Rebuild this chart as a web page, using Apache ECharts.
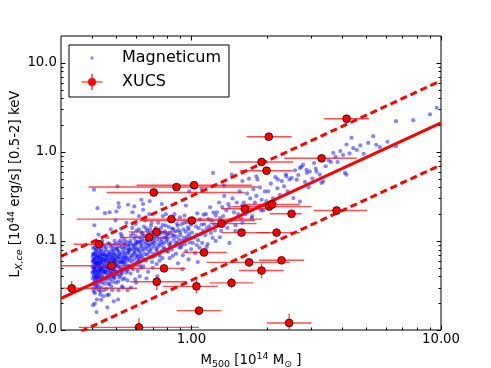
<!DOCTYPE html>
<html><head><meta charset="utf-8">
<script src="https://cdn.jsdelivr.net/npm/echarts@6/dist/echarts.min.js"></script>
<style>html,body{margin:0;padding:0;background:#fff}#c{width:491px;height:368px}</style>
</head><body><div id="c"></div>
<script>
// Magneticum simulated clusters [M500, Lx]
const magneticum = [
[0.401,0.052],[0.402,0.038],[0.402,0.067],[0.403,0.045],[0.404,0.029],[0.404,0.083],[0.405,0.058],[0.406,0.041],[0.406,0.072],[0.407,0.034],[0.408,0.049],[0.409,0.062],[0.41,0.026],[0.41,0.095],[0.411,0.044],[0.412,0.055],[0.413,0.036],[0.413,0.078],[0.414,0.047],[0.415,0.031],[0.416,0.064],[0.417,0.052],[0.418,0.022],[0.418,0.04],[0.419,0.088],[0.42,0.057],[0.421,0.033],[0.422,0.069],[0.423,0.046],[0.424,0.118],[0.425,0.039],[0.426,0.061],[0.427,0.028],[0.428,0.05],[0.429,0.075],[0.43,0.043],[0.431,0.035],[0.432,0.058],[0.433,0.066],[0.434,0.048],[0.435,0.03],[0.436,0.081],[0.437,0.054],[0.438,0.041],[0.439,0.1],[0.44,0.063],[0.441,0.037],[0.442,0.049],[0.443,0.071],[0.444,0.024],[0.445,0.056],[0.446,0.044],[0.447,0.086],[0.448,0.033],[0.449,0.06],[0.403,0.019],[0.408,0.15],[0.412,0.072],[0.416,0.042],[0.42,0.035],[0.424,0.053],[0.428,0.064],[0.432,0.027],[0.436,0.046],[0.44,0.092],[0.444,0.039],[0.448,0.052],[0.405,0.061],[0.415,0.057],[0.425,0.082],[0.435,0.061],[0.445,0.068],[0.41,0.037],[0.43,0.052],[0.45,0.045],[0.406,0.05],[0.418,0.066],[0.427,0.045],[0.438,0.07],[0.446,0.028],
[0.401,0.044],[0.402,0.059],[0.403,0.033],[0.404,0.071],[0.405,0.049],[0.406,0.027],[0.407,0.063],[0.408,0.04],[0.409,0.085],[0.41,0.054],[0.411,0.032],[0.412,0.046],[0.413,0.068],[0.414,0.057],[0.415,0.039],[0.416,0.08],[0.417,0.029],[0.418,0.051],[0.419,0.043],[0.42,0.074],[0.421,0.06],[0.422,0.038],[0.423,0.055],[0.424,0.031],[0.425,0.066],[0.426,0.047],[0.427,0.09],[0.428,0.041],[0.429,0.056],[0.43,0.07],[0.431,0.025],[0.432,0.048],[0.433,0.038],[0.434,0.077],[0.436,0.058],[0.438,0.034],[0.44,0.05],[0.442,0.062],[0.444,0.045],[0.447,0.075],
[0.451,0.048],[0.452,0.07],[0.453,0.036],[0.454,0.058],[0.455,0.085],[0.456,0.043],[0.457,0.029],[0.458,0.062],[0.459,0.052],[0.46,0.11],[0.461,0.04],[0.462,0.067],[0.463,0.047],[0.464,0.033],[0.465,0.076],[0.466,0.055],[0.467,0.025],[0.468,0.061],[0.469,0.044],[0.47,0.093],[0.471,0.037],[0.472,0.053],[0.473,0.071],[0.474,0.046],[0.475,0.135],[0.476,0.059],[0.477,0.031],[0.478,0.05],[0.479,0.079],[0.48,0.042],[0.481,0.064],[0.482,0.056],[0.483,0.035],[0.484,0.088],[0.485,0.048],[0.486,0.068],[0.487,0.041],[0.488,0.021],[0.489,0.058],[0.49,0.073],[0.491,0.038],[0.492,0.1],[0.493,0.052],[0.494,0.063],[0.495,0.045],[0.496,0.17],[0.497,0.057],[0.498,0.034],[0.499,0.082],[0.455,0.066],[0.465,0.05],[0.475,0.039],[0.485,0.061],[0.495,0.054],[0.47,0.21],[0.46,0.018],
[0.451,0.062],[0.453,0.045],[0.454,0.079],[0.456,0.053],[0.458,0.038],[0.459,0.069],[0.461,0.05],[0.463,0.094],[0.464,0.058],[0.466,0.041],[0.468,0.072],[0.469,0.033],[0.471,0.064],[0.473,0.049],[0.474,0.086],[0.476,0.043],[0.478,0.067],[0.48,0.055],[0.481,0.028],[0.483,0.075],[0.484,0.052],[0.486,0.045],[0.488,0.081],[0.489,0.039],[0.491,0.061],[0.493,0.07],[0.494,0.048],[0.496,0.092],[0.497,0.042],[0.499,0.065],
[0.501,0.06],[0.503,0.045],[0.505,0.078],[0.507,0.052],[0.509,0.035],[0.511,0.096],[0.513,0.066],[0.515,0.049],[0.517,0.072],[0.519,0.041],[0.521,0.12],[0.523,0.057],[0.525,0.085],[0.527,0.031],[0.529,0.064],[0.531,0.047],[0.533,0.075],[0.535,0.055],[0.537,0.105],[0.539,0.038],[0.541,0.068],[0.543,0.05],[0.545,0.082],[0.547,0.044],[0.549,0.16],[0.551,0.061],[0.553,0.072],[0.555,0.028],[0.557,0.09],[0.559,0.053],[0.504,0.07],[0.512,0.24],[0.518,0.058],[0.526,0.043],[0.534,0.066],[0.542,0.092],[0.55,0.048],[0.558,0.077],[0.508,0.022],[0.522,0.137],[0.538,0.059],[0.546,0.065],[0.554,0.036],[0.514,0.088],[0.53,0.096],
[0.502,0.053],[0.504,0.083],[0.506,0.042],[0.508,0.066],[0.51,0.057],[0.512,0.076],[0.514,0.039],[0.516,0.062],[0.518,0.101],[0.52,0.05],[0.522,0.07],[0.524,0.045],[0.526,0.113],[0.528,0.058],[0.53,0.037],[0.532,0.081],[0.534,0.061],[0.536,0.049],[0.538,0.088],[0.54,0.073],[0.544,0.056],[0.548,0.098],[0.552,0.064],[0.556,0.046],[0.559,0.08],
[0.562,0.074],[0.564,0.052],[0.566,0.095],[0.568,0.064],[0.57,0.043],[0.572,0.115],[0.575,0.081],[0.577,0.058],[0.579,0.14],[0.582,0.069],[0.584,0.048],[0.586,0.088],[0.588,0.062],[0.591,0.106],[0.593,0.075],[0.595,0.037],[0.597,0.092],[0.6,0.056],[0.602,0.13],[0.604,0.07],[0.607,0.082],[0.609,0.046],[0.611,0.098],[0.613,0.061],[0.616,0.19],[0.618,0.077],[0.62,0.11],[0.622,0.053],[0.625,0.086],[0.627,0.068],[0.629,0.125],[0.571,0.03],[0.58,0.21],[0.59,0.08],[0.6,0.098],[0.61,0.067],[0.62,0.04],[0.567,0.08],[0.597,0.155],[0.626,0.095],
[0.561,0.087],[0.565,0.06],[0.569,0.1],[0.573,0.068],[0.576,0.05],[0.58,0.091],[0.583,0.121],[0.587,0.073],[0.59,0.054],[0.594,0.084],[0.598,0.113],[0.601,0.066],[0.605,0.094],[0.608,0.058],[0.612,0.079],[0.615,0.135],[0.619,0.063],[0.623,0.099],[0.626,0.072],[0.629,0.05],
[0.632,0.09],[0.635,0.065],[0.637,0.12],[0.64,0.078],[0.642,0.052],[0.645,0.145],[0.647,0.1],[0.65,0.071],[0.652,0.17],[0.655,0.085],[0.657,0.06],[0.66,0.11],[0.662,0.081],[0.665,0.13],[0.667,0.095],[0.67,0.045],[0.672,0.115],[0.675,0.074],[0.677,0.2],[0.68,0.09],[0.682,0.135],[0.685,0.066],[0.687,0.105],[0.69,0.082],[0.692,0.16],[0.695,0.058],[0.697,0.098],[0.7,0.125],[0.702,0.072],[0.705,0.108],[0.707,0.087],[0.64,0.26],[0.66,0.038],[0.68,0.28],[0.7,0.05],
[0.633,0.104],[0.638,0.082],[0.643,0.115],[0.648,0.062],[0.653,0.093],[0.658,0.138],[0.663,0.07],[0.668,0.102],[0.673,0.088],[0.678,0.121],[0.683,0.078],[0.688,0.148],[0.693,0.093],[0.698,0.066],[0.704,0.117],
[0.712,0.094],[0.715,0.068],[0.718,0.128],[0.722,0.081],[0.725,0.055],[0.728,0.11],[0.731,0.085],[0.735,0.16],[0.738,0.072],[0.741,0.102],[0.745,0.06],[0.748,0.119],[0.751,0.089],[0.755,0.14],[0.758,0.077],[0.761,0.106],[0.765,0.064],[0.768,0.19],[0.771,0.094],[0.775,0.123],[0.778,0.081],[0.781,0.11],[0.785,0.051],[0.788,0.149],[0.791,0.098],[0.795,0.077],[0.798,0.119],[0.73,0.04],[0.76,0.26],[0.79,0.2],
[0.714,0.101],[0.72,0.139],[0.727,0.077],[0.733,0.118],[0.74,0.092],[0.747,0.068],[0.753,0.126],[0.76,0.097],[0.767,0.152],[0.774,0.084],[0.782,0.128],[0.792,0.108],
[0.802,0.104],[0.806,0.076],[0.81,0.144],[0.814,0.092],[0.818,0.064],[0.822,0.124],[0.826,0.096],[0.83,0.168],[0.834,0.08],[0.838,0.116],[0.842,0.068],[0.846,0.136],[0.85,0.104],[0.855,0.2],[0.859,0.088],[0.863,0.128],[0.867,0.072],[0.871,0.112],[0.875,0.156],[0.879,0.096],[0.883,0.056],[0.887,0.132],[0.891,0.104],[0.895,0.084],[0.899,0.184],
[0.805,0.118],[0.82,0.088],[0.835,0.138],[0.85,0.115],[0.865,0.095],[0.88,0.148],[0.9,0.125],[0.915,0.09],[0.935,0.16],[0.955,0.105],[0.975,0.135],[0.995,0.152],
[0.903,0.116],[0.908,0.085],[0.913,0.154],[0.918,0.1],[0.923,0.069],[0.928,0.135],[0.933,0.108],[0.938,0.193],[0.943,0.092],[0.948,0.127],[0.953,0.077],[0.958,0.162],[0.963,0.112],[0.968,0.142],[0.973,0.062],[0.978,0.119],[0.983,0.096],[0.988,0.177],[0.993,0.108],[0.997,0.081],[0.95,0.25],[0.92,0.048],
[1.005,0.124],[1.012,0.095],[1.02,0.168],[1.027,0.11],[1.034,0.073],[1.041,0.146],[1.048,0.117],[1.055,0.204],[1.062,0.102],[1.069,0.139],[1.076,0.084],[1.083,0.175],[1.09,0.12],[1.097,0.153],[1.104,0.095],[1.111,0.131],[1.118,0.197],[1.06,0.058],
[1.125,0.154],[1.134,0.116],[1.143,0.2],[1.152,0.139],[1.161,0.092],[1.17,0.177],[1.179,0.146],[1.188,0.239],[1.197,0.123],[1.206,0.169],[1.215,0.108],[1.224,0.208],[1.233,0.154],[1.242,0.131],[1.251,0.193],
[1.265,0.21],[1.278,0.15],[1.29,0.27],[1.302,0.18],[1.315,0.13],[1.328,0.24],[1.34,0.19],[1.353,0.32],[1.366,0.16],[1.379,0.22],[1.392,0.14],[1.405,0.26],
[1.42,0.24],[1.44,0.17],[1.46,0.3],[1.48,0.21],[1.5,0.15],[1.52,0.27],[1.54,0.2],[1.56,0.36],[1.58,0.18],[1.595,0.25],
[1.62,0.27],[1.645,0.2],[1.67,0.34],[1.695,0.24],[1.72,0.3],[1.745,0.18],[1.77,0.38],[1.795,0.27],
[1.82,0.32],[1.85,0.24],[1.88,0.4],[1.91,0.29],[1.94,0.22],[1.97,0.36],[1.995,0.28],
[2.03,0.36],[2.08,0.44],[2.12,0.3],[2.17,0.52],[2.21,0.39],[2.26,0.33],[2.3,0.47],[2.35,0.41],[2.39,0.56],[2.43,0.36],[2.47,0.49],[2.1,0.26],
[2.52,0.51],[2.56,0.303],[2.6,0.62],[2.64,0.487],[2.68,0.55],[2.72,0.277],[2.76,0.68],[2.8,0.719],[2.85,0.46],[2.9,0.58],[2.98,0.604],[3.05,0.5],[3.1,0.75],[3.15,0.65],[2.95,0.4],
[3.27,0.555],[3.32,0.447],[3.37,0.466],[3.45,0.69],[3.55,0.8],[3.62,0.77],[3.7,0.974],[3.78,0.88],[3.85,0.77],[3.95,1.02],[4.05,0.92],[4.12,0.58],[4.18,1.21],[4.18,0.555],[4.3,0.96],[4.38,1.44],[4.45,1.1],
[4.6,1.05],[4.75,1.18],[4.9,0.95],[5.11,1.26],[5.35,1.5],[5.5,1.2],[5.69,1.13],[6.1,1.3],[6.6,1.16],[6.6,2.21],[7.74,2.27],[9.03,2.63],[9.61,3.13],
[1.22,0.58],[1.45,0.555],[1.82,0.53],[1.84,0.49],[2.22,0.49],[2.4,0.53],[2.72,0.66],[2.89,0.63],[3.17,0.6],[1.6,0.47],[1.35,0.42],[1.1,0.38],[0.98,0.36],[1.7,0.5],
[1.3,0.11],[1.42,0.095],[1.5,0.13],[1.25,0.1],[1.6,0.16],[1.75,0.19],[1.9,0.22],[2.0,0.24],[1.15,0.085],[1.05,0.09],
[0.407,0.376],[0.505,0.41],[0.42,0.233],[0.45,0.205],[0.51,0.266],[0.557,0.255],[0.59,0.244],[0.5,0.214],[0.64,0.224],[0.63,0.29],
[0.416,0.0159],[0.41,0.0198],[0.435,0.0218],[0.46,0.0247],[0.51,0.028],[0.53,0.03],[0.6,0.034]
];

// XUCS clusters: [M500, Lx, M500 low, M500 high, Lx low, Lx high]
const xucs = [
[0.706,0.350,0.457,1.636,null,null],
[0.871,0.403,0.387,1.845,null,null],
[1.024,0.422,0.603,1.746,null,null],
[0.426,0.0918,0.337,0.550,null,null],
[0.478,0.0527,0.28,0.620,null,null],
[0.831,0.1757,0.347,1.914,null,null],
[1.003,0.1694,0.620,1.795,null,null],
[0.676,0.1095,0.516,0.834,null,null],
[0.724,0.1263,0.560,0.873,null,null],
[0.331,0.0294,0.25,0.606,0.0266,0.0354],
[0.776,0.0492,0.555,0.949,null,null],
[0.726,0.0348,0.566,0.957,0.0280,0.0396],
[0.616,0.0107,0.353,1.070,0.0095,0.01355],
[1.047,0.0309,0.767,1.275,0.0257,0.0363],
[1.072,0.0165,0.873,1.319,null,null],
[1.122,0.0742,0.923,1.385,null,null],
[1.319,0.1563,1.184,1.823,null,null],
[1.447,0.0338,1.184,1.766,0.0293,0.0386],
[1.587,0.1241,1.323,2.061,null,null],
[1.636,0.2295,1.319,1.968,null,null],
[1.702,0.0575,1.149,2.479,0.0513,0.0611],
[2.042,1.480,1.662,2.518,null,null],
[1.909,0.771,1.415,2.556,null,null],
[2.000,0.615,1.562,2.549,null,null],
[3.323,0.847,2.352,4.590,null,null],
[4.184,2.355,3.403,5.142,null,null],
[2.048,0.243,1.447,3.029,null,null],
[2.106,0.257,1.636,2.719,null,null],
[2.518,0.2016,2.061,2.762,null,null],
[2.193,0.1241,1.823,2.719,null,null],
[2.296,0.0606,1.867,2.829,null,null],
[1.909,0.0465,1.552,2.346,0.0380,0.0561],
[2.463,0.0120,2.000,3.029,0.0095,0.0153],
[3.816,0.2196,3.094,5.050,null,null]
];

// Best-fit scaling relation and its scatter band
const fitX = [0.3, 10];
const fitMid = [0.0226, 2.12];
const fitUpper = [0.0671, 6.30];
const fitLower = [0.0076, 0.714];

// Axis ranges and tick positions
const xRange = [0.3, 10];
const yRange = [0.01, 20];
const xTickMajor = [1, 10];
const xTickMinor = [0.4,0.5,0.6,0.7,0.8,0.9,2,3,4,5,6,7,8,9];
const yTickMajor = [0.01, 0.1, 1, 10];
const yTickMinor = [0.02,0.03,0.04,0.05,0.06,0.07,0.08,0.09,0.2,0.3,0.4,0.5,0.6,0.7,0.8,0.9,2,3,4,5,6,7,8,9];

const FONT = 'DejaVu Sans';
const isDecade = v => Math.abs(Math.log10(v) - Math.round(Math.log10(v))) < 1e-6;

function tickSeries(values, isX, len) {
  return {
    type: 'custom', coordinateSystem: 'cartesian2d', silent: true, z: 10, clip: false,
    data: values.map(v => isX ? [v, yRange[0]] : [xRange[0], v]),
    renderItem: function (params, api) {
      const v = api.value(isX ? 0 : 1);
      const st = { stroke: '#000', lineWidth: 1 };
      if (isX) {
        const b = api.coord([v, yRange[0]]), t = api.coord([v, yRange[1]]);
        const x = Math.round(b[0]) + 0.5;
        return { type: 'group', children: [
          { type: 'line', shape: { x1: x, y1: b[1], x2: x, y2: b[1] - len }, style: st },
          { type: 'line', shape: { x1: x, y1: t[1], x2: x, y2: t[1] + len }, style: st }
        ]};
      } else {
        const l = api.coord([xRange[0], v]), r = api.coord([xRange[1], v]);
        const y = Math.round(l[1]) + 0.5;
        return { type: 'group', children: [
          { type: 'line', shape: { x1: l[0], y1: y, x2: l[0] + len, y2: y }, style: st },
          { type: 'line', shape: { x1: r[0], y1: y, x2: r[0] - len, y2: y }, style: st }
        ]};
      }
    }
  };
}

const chart = echarts.init(document.getElementById('c'), null, { renderer: 'canvas' });
const baseRich = {
  b: { fontSize: 13.3, fontFamily: FONT, color: '#000', fill: '#000', lineHeight: 18 },
  s: { fontSize: 9.5, fontFamily: FONT, color: '#000', fill: '#000', verticalAlign: 'bottom', lineHeight: 9 },
  si: { fontSize: 9.5, fontFamily: FONT, fontStyle: 'italic', color: '#000', fill: '#000', verticalAlign: 'bottom', lineHeight: 9 },
  p: { fontSize: 9.5, fontFamily: FONT, color: '#000', fill: '#000', verticalAlign: 'top', lineHeight: 9 }
};
const yTitle = '{b|L}{si|X,ce}{b| [10}{p|44}{b| erg/s] [0.5-2] keV}';

chart.setOption({
  animation: false,
  backgroundColor: '#fff',
  grid: { left: 61, right: 50, top: 36, bottom: 38, containLabel: false, outerBoundsMode: 'none',
    show: true, borderColor: '#000', borderWidth: 1, backgroundColor: 'transparent' },
  graphic: [{
    type: 'text', x: 16, y: 184, rotation: Math.PI / 2, silent: true,
    style: { text: yTitle, rich: baseRich, align: 'center', verticalAlign: 'middle',
      fill: '#000', font: '13.3px "DejaVu Sans"' }
  }],
  legend: {
    left: 69, top: 45, orient: 'vertical', selectedMode: false,
    itemWidth: 24, itemHeight: 16, itemGap: 8,
    padding: [5, 8, 7, 11],
    borderColor: '#000', borderWidth: 1, backgroundColor: '#fff',
    textStyle: { fontFamily: FONT, fontSize: 16, color: '#000', padding: [0, 0, 0, 13] },
    data: [
      { name: 'Magneticum', icon: 'path://M0,0M24,16M10.3,8a1.7,1.7 0 1,1 3.4,0a1.7,1.7 0 1,1 -3.4,0Z' },
      { name: 'XUCS', icon: 'path://M0,0M24,16M1.5,7.4H22.5V8.6H1.5ZM11.4,0H12.6V16H11.4ZM8,8a4,4 0 1,1 8,0a4,4 0 1,1 -8,0Z' }
    ]
  },
  xAxis: {
    type: 'log', logBase: 10, min: xRange[0], max: xRange[1],
    axisLine: { show: false }, axisTick: { show: false }, splitLine: { show: false },
    axisLabel: { margin: 3, color: '#000', fontSize: 13.3, fontFamily: FONT,
      formatter: v => isDecade(v) ? v.toFixed(2) : '' },
    name: '{b|M}{s|500}{b| [10}{p|14}{b| M}{s|\u2299}{b| ]}',
    nameLocation: 'middle', nameGap: 22,
    nameTextStyle: { rich: baseRich }
  },
  yAxis: {
    type: 'log', logBase: 10, min: yRange[0], max: yRange[1],
    axisLine: { show: false }, axisTick: { show: false }, splitLine: { show: false },
    axisLabel: { margin: 4, color: '#000', fontSize: 13.3, fontFamily: FONT,
      formatter: v => isDecade(v) ? v.toFixed(1) : '' }
  },
  series: [
    {
      name: 'Magneticum', type: 'scatter', z: 2, silent: true,
      symbol: 'circle', symbolSize: 4.2,
      itemStyle: { color: 'rgba(0,0,255,0.6)' },
      data: magneticum
    },
    { name: 'fit', type: 'line', z: 3, silent: true, showSymbol: false, symbol: 'none',
      lineStyle: { color: '#ff0000', width: 3 },
      data: [[fitX[0], fitMid[0]], [fitX[1], fitMid[1]]] },
    { name: 'fit+', type: 'line', z: 3, silent: true, showSymbol: false, symbol: 'none',
      lineStyle: { color: '#ff0000', width: 3, type: [7, 4] },
      data: [[fitX[0], fitUpper[0]], [fitX[1], fitUpper[1]]] },
    { name: 'fit-', type: 'line', z: 3, silent: true, showSymbol: false, symbol: 'none',
      lineStyle: { color: '#ff0000', width: 3, type: [7, 4] },
      data: [[fitX[0], fitLower[0]], [fitX[1], fitLower[1]]] },
    {
      name: 'XUCS errors', type: 'custom', coordinateSystem: 'cartesian2d', z: 4, silent: true, clip: true,
      dimensions: ['m', 'l', 'mlo', 'mhi', 'llo', 'lhi'], encode: { x: 0, y: 1 },
      data: xucs,
      renderItem: function (params, api) {
        const x = api.value(0), y = api.value(1);
        const st = { stroke: 'rgba(255,0,0,0.7)', lineWidth: 1.4 };
        const ch = [];
        const a = api.coord([api.value(2), y]), b = api.coord([api.value(3), y]);
        ch.push({ type: 'line', shape: { x1: a[0], y1: a[1], x2: b[0], y2: b[1] }, style: st });
        const lo = api.value(4), hi = api.value(5);
        if (!isNaN(lo) && !isNaN(hi) && lo > 0) {
          const c = api.coord([x, lo]), d = api.coord([x, hi]);
          ch.push({ type: 'line', shape: { x1: c[0], y1: c[1], x2: d[0], y2: d[1] }, style: st });
        }
        return { type: 'group', children: ch };
      }
    },
    {
      name: 'XUCS', type: 'custom', coordinateSystem: 'cartesian2d', z: 5, silent: true, clip: true,
      itemStyle: { color: '#ff0000' },
      dimensions: ['m', 'l', 'mlo', 'mhi', 'llo', 'lhi'], encode: { x: 0, y: 1 },
      data: xucs,
      renderItem: function (params, api) {
        const p = api.coord([api.value(0), api.value(1)]);
        return { type: 'circle', shape: { cx: p[0], cy: p[1], r: 3.9 },
          style: { fill: '#ff0000', stroke: '#000', lineWidth: 0.7 } };
      }
    },
    tickSeries(xTickMajor, true, 4.5),
    tickSeries(xTickMinor, true, 2.5),
    tickSeries(yTickMajor, false, 4.5),
    tickSeries(yTickMinor, false, 2.5)
  ]
});
</script>
</body></html>
